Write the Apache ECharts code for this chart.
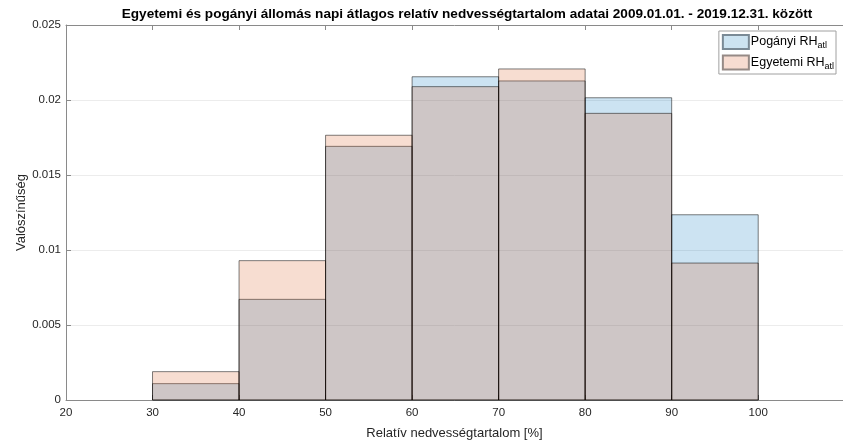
<!DOCTYPE html>
<html><head><meta charset="utf-8">
<script src="https://cdn.jsdelivr.net/npm/echarts@6/dist/echarts.min.js"></script>
<style>html,body{margin:0;padding:0;background:#fff}#c{width:843px;height:441px}</style>
</head><body><div id="c"></div>
<script>
const binEdges = [30, 40, 50, 60, 70, 80, 90, 100];
const poganyi = [0.00109, 0.00671, 0.01691, 0.02155, 0.02127, 0.02015, 0.01235];
const egyetemi = [0.00189, 0.00929, 0.01765, 0.02089, 0.02207, 0.01911, 0.00913];
const xTicks = [20, 30, 40, 50, 60, 70, 80, 90, 100];
const yTicks = [0, 0.005, 0.01, 0.015, 0.02, 0.025];

function toData(vals){ return vals.map((v,i)=>[binEdges[i], binEdges[i+1], v]); }
function render(fill){
  return function(params, api){
    const p0 = api.coord([api.value(0), api.value(2)]);
    const p1 = api.coord([api.value(1), 0]);
    return {type:'rect', shape:{x:p0[0], y:p0[1], width:p1[0]-p0[0], height:p1[1]-p0[1]},
      style:{fill:fill, stroke:'rgba(0,0,0,0.5)', lineWidth:1}};
  };
}
const font = 'Liberation Sans, Arial, sans-serif';
const chart = echarts.init(document.getElementById('c'));
chart.setOption({
  animation:false,
  backgroundColor:'#fff',
  title:{text:'Egyetemi és pogányi állomás napi átlagos relatív nedvességtartalom adatai 2009.01.01. - 2019.12.31. között',
    left:462, top:2, textAlign:'center',
    textStyle:{fontFamily:font, fontSize:13.6, fontWeight:'bold', color:'#000'}},
  grid:{left:66, right:0, top:25, bottom:41, containLabel:false, outerBoundsMode:'none'},
  legend:{right:7, top:31, orient:'vertical', itemWidth:26, itemHeight:14, itemGap:4,
    padding:[3,2,3,3], borderColor:'#a0a0a0', borderWidth:1, backgroundColor:'#fff',
    textStyle:{fontFamily:font, fontSize:12, color:'#000', padding:[0,0,0,-3],
      rich:{a:{fontFamily:font,fontSize:12.5,color:'#000'}, s:{fontFamily:font,fontSize:9,color:'#000',verticalAlign:'bottom',padding:[8,0,0,0]}}},
    formatter:function(n){ return '{a|'+n+'}{s|atl}'; },
    data:[{name:'Pogányi RH', icon:'rect'},{name:'Egyetemi RH', icon:'rect'}]},
  xAxis:[{type:'value', min:20, max:109.8, interval:10, position:'bottom',
    name:'Relatív nedvességtartalom [%]', nameLocation:'middle', nameGap:27, nameMoveOverlap:false,
    nameTextStyle:{fontFamily:font, fontSize:13, color:'#262626'},
    axisLine:{show:true, lineStyle:{color:'#8a8a8a', width:1}},
    axisTick:{show:true, inside:true, length:5, lineStyle:{color:'#8a8a8a'}},
    axisLabel:{fontFamily:font, fontSize:11.5, color:'#262626', margin:7, showMaxLabel:false,
      formatter:function(v){ return xTicks.indexOf(v)>=0 ? String(v) : ''; }},
    splitLine:{show:false}},
   {type:'value', min:20, max:109.8, interval:10, position:'top',
    axisLine:{show:true, lineStyle:{color:'#8a8a8a', width:1}},
    axisTick:{show:true, inside:true, length:5, lineStyle:{color:'#8a8a8a'}},
    axisLabel:{show:false}, splitLine:{show:false}}],
  yAxis:{type:'value', min:0, max:0.025, interval:0.005,
    name:'Valószínűség', nameLocation:'middle', nameGap:38, nameMoveOverlap:false,
    nameTextStyle:{fontFamily:font, fontSize:13, color:'#262626'},
    axisLine:{show:true, lineStyle:{color:'#8a8a8a', width:1}},
    axisTick:{show:true, inside:true, length:5, lineStyle:{color:'#8a8a8a'}},
    axisLabel:{fontFamily:font, fontSize:11.5, color:'#262626', margin:5,
      formatter:function(v){ const t=yTicks.find(x=>Math.abs(x-v)<1e-9); return t===undefined?'':String(t); }},
    splitLine:{show:true, lineStyle:{color:'#ececec', width:1}}},
  series:[
    {name:'Pogányi RH', type:'custom', renderItem:render('rgba(0,114,189,0.2)'), data:toData(poganyi),
      encode:{x:[0,1], y:2}, itemStyle:{color:'#cce3f1', borderColor:'#7a8a96', borderWidth:1}},
    {name:'Egyetemi RH', type:'custom', renderItem:render('rgba(217,83,25,0.2)'), data:toData(egyetemi),
      encode:{x:[0,1], y:2}, itemStyle:{color:'#f7dcd1', borderColor:'#968a86', borderWidth:1}}
  ]
});
</script></body></html>
